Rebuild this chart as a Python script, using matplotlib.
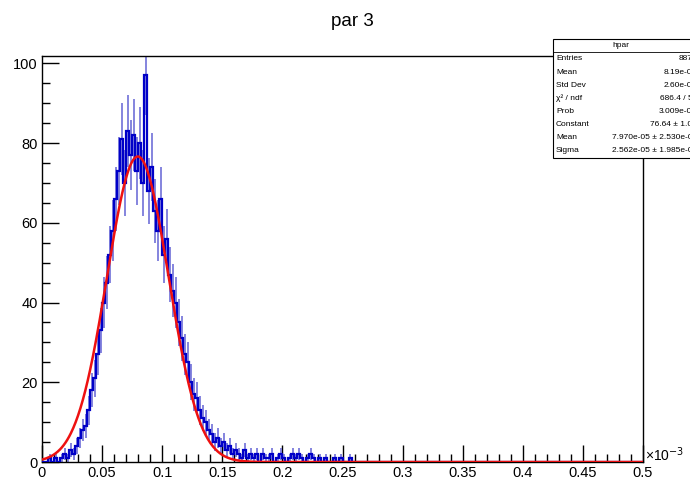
import matplotlib
matplotlib.use("Agg")
import matplotlib.pyplot as plt
import numpy as np
from matplotlib.patches import Rectangle

plt.rcParams['font.family'] = ['Liberation Sans', 'DejaVu Sans']

# histogram "hpar", x in units of 1e-3, bin width 0.0025
bin_width = 0.0025
counts = [0, 0, 1, 0, 1, 0, 1, 2, 1, 3,
          2, 4, 6, 8, 9, 13, 18, 21, 27, 33,
          40, 45, 52, 58, 66, 73, 81, 70, 83, 77,
          82, 73, 80, 70, 97, 68, 74, 63, 58, 66,
          52, 56, 47, 43, 40, 35, 31, 27, 25, 20,
          17, 16, 13, 11, 10, 8, 7, 5, 6, 4,
          5, 3, 4, 2, 3, 2, 1, 3, 1, 2,
          1, 2, 0, 2, 1, 1, 2, 0, 1, 2,
          1, 0, 1, 2, 1, 2, 1, 0, 1, 2,
          1, 0, 1, 0, 1, 0, 0, 1, 0, 1,
          0, 0, 1]
n_bins = 200
x_min, x_max = 0.0, 0.5

# gaussian fit result (from stats box)
fit_const = 76.64
fit_mean = 0.07970
fit_sigma = 0.02562

stat_names = ["Entries", "Mean", "Std Dev", "\u03c7\u00b2 / ndf", "Prob",
              "Constant", "Mean", "Sigma"]
stat_values = ["8877", "8.19e-05", "2.60e-05", "686.4 / 54", "3.009e-05",
               "76.64 \u00b1 1.05", "7.970e-05 \u00b1 2.530e-07",
               "2.562e-05 \u00b1 1.985e-07"]

h = np.zeros(n_bins)
h[:len(counts)] = counts
edges = np.linspace(x_min, x_max, n_bins + 1)
centers = 0.5 * (edges[:-1] + edges[1:])
err = np.sqrt(h)

fig = plt.figure(figsize=(6.9, 4.79), dpi=100)
ax = fig.add_axes([42/690, 17/479, 601/690, 406/479])

# error bars (lighter), then histogram outline
ax.vlines(centers, h - err, h + err, color='#6f6fd8', linewidth=1.2, zorder=2)
ax.stairs(h, edges, color='#0000c8', linewidth=1.6, zorder=3)

xf = np.linspace(x_min, x_max, 1000)
yf = fit_const * np.exp(-0.5 * ((xf - fit_mean) / fit_sigma) ** 2)
ax.plot(xf, yf, color='#ee1111', linewidth=1.8, zorder=4)

ax.set_xlim(x_min, x_max)
ax.set_ylim(0, 101.85)
ax.set_xticks(np.arange(0, 0.501, 0.05))
ax.set_xticklabels(['0', '0.05', '0.1', '0.15', '0.2', '0.25', '0.3', '0.35',
                    '0.4', '0.45', '0.5'])
ax.set_xticks(np.arange(0, 0.501, 0.01), minor=True)
ax.set_yticks(np.arange(0, 101, 20))
ax.set_yticks(np.arange(0, 101, 5), minor=True)
ax.tick_params(which='both', direction='in', labelsize=10.5, width=1.0)
ax.tick_params(which='major', length=12, pad=3)
ax.tick_params(which='minor', length=6)
for s in ax.spines.values():
    s.set_linewidth(1.0)

fig.text(645/690, 1 - 455/479, '\u00d710$^{-3}$', fontsize=10, va='center', ha='left')
fig.text(352/690, 1 - 22/479, 'par 3', fontsize=13.5, ha='center', va='center')

# stats box, running off the right edge like the original
bx0, by0, by1 = 553/690, 1 - 158/479, 1 - 39/479
fig.patches.append(Rectangle((bx0, by0), 0.3, by1 - by0, transform=fig.transFigure,
                             facecolor='white', edgecolor='black', linewidth=0.8, zorder=10))
row_top = 1 - 52/479
fig.lines.append(plt.Line2D([bx0, 1.0], [row_top, row_top], transform=fig.transFigure,
                            color='black', linewidth=0.6, zorder=11))
fig.text(621/690, 1 - 45.5/479, 'hpar', fontsize=6, ha='center', va='center', zorder=12)
for i, (nm, val) in enumerate(zip(stat_names, stat_values)):
    yy = 1 - (59 + 13.1 * i) / 479
    fig.text(556/690, yy, nm, fontsize=6, ha='left', va='center', zorder=12)
    fig.text(697/690, yy, val, fontsize=6, ha='right', va='center', zorder=12)

fig.savefig('out.png', dpi=100)
